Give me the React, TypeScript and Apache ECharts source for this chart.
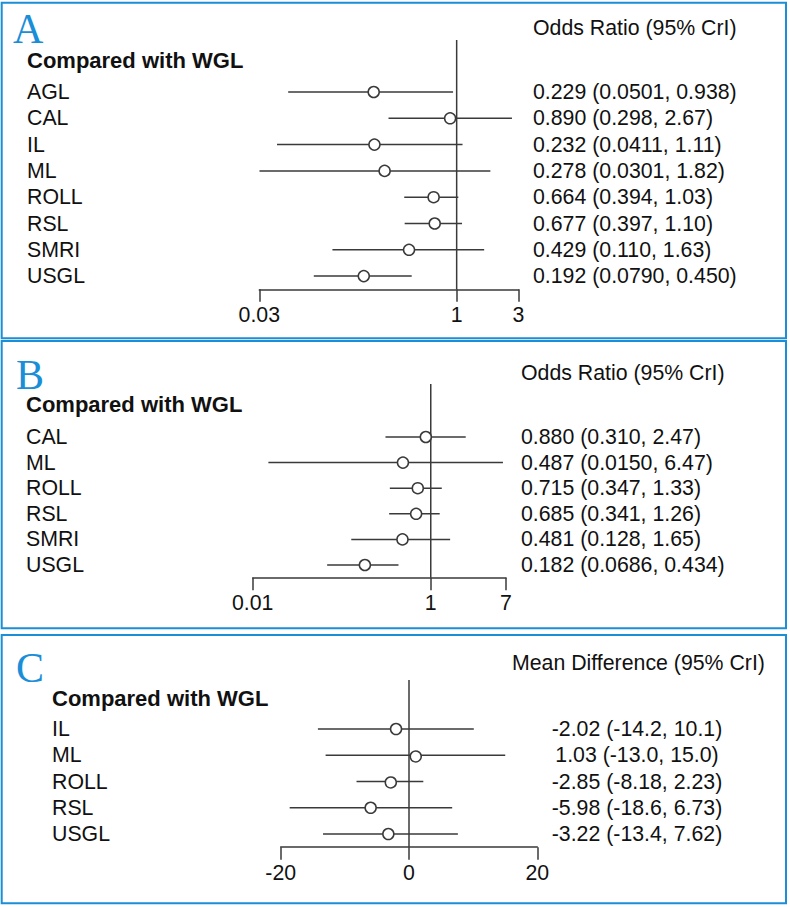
import React, { useEffect, useRef } from 'react';
import * as echarts from 'echarts';

const FONT_FAMILY = '"Liberation Sans", Arial, Helvetica, sans-serif';
const SERIF = '"Liberation Serif", "Times New Roman", serif';
const TEXT = '#111111';
const INK = '#3a3a3a';
const BLUE = '#1b8ed8';
const FS = 21.3;

// Panel A: odds ratio
const catsA = ['AGL', 'CAL', 'IL', 'ML', 'ROLL', 'RSL', 'SMRI', 'USGL'];
const estA = [0.229, 0.890, 0.232, 0.278, 0.664, 0.677, 0.429, 0.192];
const lowA = [0.0501, 0.298, 0.0411, 0.0301, 0.394, 0.397, 0.110, 0.0790];
const highA = [0.938, 2.67, 1.11, 1.82, 1.03, 1.10, 1.63, 0.450];
const ticksA = [0.03, 1, 3];
const tickLabelsA = ['0.03', '1', '3'];

// Panel B: odds ratio
const catsB = ['CAL', 'ML', 'ROLL', 'RSL', 'SMRI', 'USGL'];
const estB = [0.880, 0.487, 0.715, 0.685, 0.481, 0.182];
const lowB = [0.310, 0.0150, 0.347, 0.341, 0.128, 0.0686];
const highB = [2.47, 6.47, 1.33, 1.26, 1.65, 0.434];
const ticksB = [0.01, 1, 7];
const tickLabelsB = ['0.01', '1', '7'];

// Panel C: mean difference
const catsC = ['IL', 'ML', 'ROLL', 'RSL', 'USGL'];
const estC = [-2.02, 1.03, -2.85, -5.98, -3.22];
const lowC = [-14.2, -13.0, -8.18, -18.6, -13.4];
const highC = [10.1, 15.0, 2.23, 6.73, 7.62];
const ticksC = [-20, 0, 20];
const tickLabelsC = ['-20', '0', '20'];

const fmt = (v: number) => v.toPrecision(3);

type Panel = {
  cats: string[]; est: number[]; low: number[]; high: number[];
  ticks: number[]; tickLabels: string[]; log: boolean; ref: number;
  header: string; letter: string;
  left: number; width: number; top: number; height: number; refTop: number;
  labelX: number; valueX: number; valueAlign: 'left' | 'center';
  headerX: number; headerY: number; titleX: number; titleY: number;
  letterX: number; letterY: number; box: [number, number, number, number];
};

const panels: Panel[] = [
  {
    cats: catsA, est: estA, low: lowA, high: highA, ticks: ticksA, tickLabels: tickLabelsA,
    log: true, ref: 1, header: 'Odds Ratio (95% CrI)', letter: 'A',
    left: 259.3, width: 259.2, top: 78.85, height: 210.4, refTop: 40,
    labelX: 27, valueX: 533, valueAlign: 'left', headerX: 533, headerY: 28,
    titleX: 27, titleY: 60, letterX: 13, letterY: 29, box: [1.7, 2.7, 784.3, 335.6],
  },
  {
    cats: catsB, est: estB, low: lowB, high: highB, ticks: ticksB, tickLabels: tickLabelsB,
    log: true, ref: 1, header: 'Odds Ratio (95% CrI)', letter: 'B',
    left: 252.7, width: 253.3, top: 424.2, height: 153.6, refTop: 384,
    labelX: 26, valueX: 521, valueAlign: 'left', headerX: 521, headerY: 373,
    titleX: 26, titleY: 404, letterX: 16, letterY: 374.5, box: [1.7, 341, 784.3, 287.3],
  },
  {
    cats: catsC, est: estC, low: lowC, high: highC, ticks: ticksC, tickLabels: tickLabelsC,
    log: false, ref: 0, header: 'Mean Difference (95% CrI)', letter: 'C',
    left: 280.7, width: 256.6, top: 715.9, height: 131.25, refTop: 680,
    labelX: 52, valueX: 637, valueAlign: 'center', headerX: 512, headerY: 663,
    titleX: 52, titleY: 698, letterX: 16, letterY: 668, box: [1.7, 635, 784.3, 268.3],
  },
];

function labelFor(p: Panel, v: number): string {
  let best = 0;
  let bestD = Infinity;
  p.ticks.forEach((t, i) => {
    const d = p.log ? Math.abs(Math.log10(v) - Math.log10(t)) : Math.abs(v - t);
    if (d < bestD) { bestD = d; best = i; }
  });
  return p.tickLabels[best];
}

function buildOption() {
  const grid: any[] = [];
  const xAxis: any[] = [];
  const yAxis: any[] = [];
  const series: any[] = [];
  const graphic: any[] = [];

  panels.forEach((p, i) => {
    grid.push({ left: p.left, top: p.top, width: p.width, height: p.height, containLabel: false, outerBoundsMode: 'none' });
    xAxis.push({
      gridIndex: i,
      type: p.log ? 'log' : 'value',
      logBase: 10,
      min: p.ticks[0],
      max: p.ticks[p.ticks.length - 1],
      axisLine: { show: true, onZero: false, lineStyle: { color: INK, width: 1.5 } },
      axisTick: { show: true, customValues: p.ticks, length: 12.5, inside: false, lineStyle: { color: INK, width: 1.5 } },
      axisLabel: {
        show: true, customValues: p.ticks, margin: 15, color: TEXT, fontSize: FS, fontFamily: FONT_FAMILY,
        hideOverlap: false,
        formatter: (v: number) => labelFor(p, v),
      },
      splitLine: { show: false },
      minorTick: { show: false },
    });
    yAxis.push({
      gridIndex: i,
      type: 'category',
      data: p.cats,
      inverse: true,
      axisLine: { show: false },
      axisTick: { show: false },
      splitLine: { show: false },
      axisLabel: {
        interval: 0, hideOverlap: false, align: 'left', margin: p.left - p.labelX,
        color: TEXT, fontSize: FS, fontFamily: FONT_FAMILY,
      },
    });
    // reference line
    series.push({
      type: 'custom',
      xAxisIndex: i,
      yAxisIndex: i,
      clip: false,
      silent: true,
      z: 1,
      data: [[p.ref, 0]],
      encode: { x: 0, y: 1 },
      renderItem: (params: any, api: any) => {
        const x = api.coord([api.value(0), 0])[0];
        const cs = params.coordSys;
        return {
          type: 'line',
          shape: { x1: x, y1: p.refTop, x2: x, y2: cs.y + cs.height },
          style: { stroke: INK, lineWidth: 1.5 },
        };
      },
    });
    // estimates with intervals
    series.push({
      type: 'custom',
      xAxisIndex: i,
      yAxisIndex: i,
      clip: false,
      silent: true,
      z: 3,
      data: p.cats.map((_, k) => [p.est[k], p.low[k], p.high[k], k]),
      encode: { x: [0, 1, 2], y: 3 },
      renderItem: (params: any, api: any) => {
        const k = api.value(3);
        const e = api.value(0);
        const lo = api.value(1);
        const hi = api.value(2);
        const pe = api.coord([e, k]);
        const pl = api.coord([lo, k]);
        const ph = api.coord([hi, k]);
        const txt = `${fmt(e)} (${fmt(lo)}, ${fmt(hi)})`;
        return {
          type: 'group',
          children: [
            { type: 'line', shape: { x1: pl[0], y1: pe[1], x2: ph[0], y2: pe[1] }, style: { stroke: INK, lineWidth: 1.5 } },
            { type: 'circle', shape: { cx: pe[0], cy: pe[1], r: 5.5 }, style: { fill: '#ffffff', stroke: INK, lineWidth: 1.5 } },
            {
              type: 'text',
              style: {
                text: txt, x: p.valueX, y: pe[1], fill: TEXT,
                font: `${FS}px ${FONT_FAMILY}`,
                align: p.valueAlign, verticalAlign: 'middle',
                textAlign: p.valueAlign, textVerticalAlign: 'middle',
              },
            },
          ],
        };
      },
    });

    graphic.push({
      type: 'rect',
      shape: { x: p.box[0], y: p.box[1], width: p.box[2], height: p.box[3] },
      style: { fill: 'none', stroke: BLUE, lineWidth: 2 },
      silent: true,
      z: 0,
    });
    graphic.push({
      type: 'text',
      style: {
        text: p.letter, x: p.letterX, y: p.letterY, fill: BLUE,
        font: `42px ${SERIF}`, textAlign: 'left', textVerticalAlign: 'middle',
      },
      silent: true,
    });
    graphic.push({
      type: 'text',
      style: {
        text: 'Compared with WGL', x: p.titleX, y: p.titleY, fill: TEXT,
        font: `bold 22px ${FONT_FAMILY}`, textAlign: 'left', textVerticalAlign: 'middle',
      },
      silent: true,
    });
    graphic.push({
      type: 'text',
      style: {
        text: p.header, x: p.headerX, y: p.headerY, fill: TEXT,
        font: `${FS}px ${FONT_FAMILY}`, textAlign: 'left', textVerticalAlign: 'middle',
      },
      silent: true,
    });
  });

  return {
    animation: false,
    backgroundColor: '#ffffff',
    grid, xAxis, yAxis, series, graphic,
  };
}

export default function App() {
  const ref = useRef<HTMLDivElement>(null);
  useEffect(() => {
    if (!ref.current) return;
    const chart = echarts.init(ref.current, undefined, { renderer: 'svg' });
    chart.setOption(buildOption() as any);
    return () => chart.dispose();
  }, []);
  return (
    <div
      ref={ref}
      style={{ position: 'fixed', left: 0, top: 0, width: 790, height: 907, background: '#fff' }}
    />
  );
}
